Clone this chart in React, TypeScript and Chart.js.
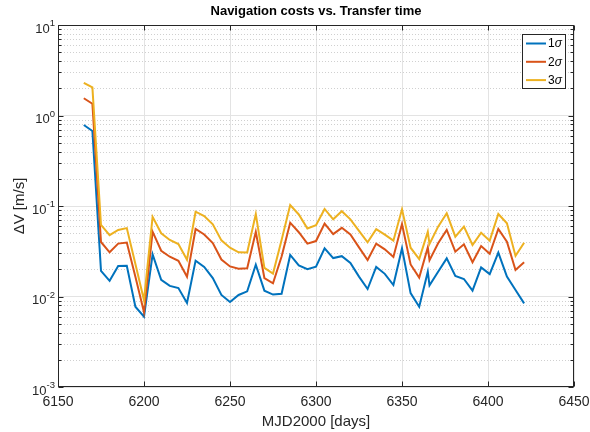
import React, { useEffect, useRef } from 'react';
import { Chart, registerables } from 'chart.js';

Chart.register(...registerables);

// ---- data ----
const days = [
  6165, 6170, 6175, 6180, 6185, 6190, 6195, 6200, 6205, 6210,
  6215, 6220, 6225, 6230, 6235, 6240, 6245, 6250, 6255, 6260,
  6265, 6270, 6275, 6280, 6285, 6290, 6295, 6300, 6305, 6310,
  6315, 6320, 6325, 6330, 6335, 6340, 6345, 6350, 6355, 6360,
  6365, 6366, 6371, 6376, 6381, 6386, 6391, 6396, 6401, 6406,
  6411, 6416, 6421,
];

const sigma1 = [
  0.785, 0.674, 0.0192, 0.0149, 0.0217, 0.0218, 0.0077, 0.006, 0.0292, 0.0153,
  0.0131, 0.0124, 0.0085, 0.0249, 0.0212, 0.016, 0.0104, 0.0087, 0.0104, 0.0114,
  0.0225, 0.0116, 0.0105, 0.0107, 0.0288, 0.0221, 0.02, 0.0214, 0.034, 0.0266,
  0.0279, 0.0235, 0.0166, 0.0121, 0.0212, 0.0178, 0.0134, 0.034, 0.0109, 0.0077,
  0.0188, 0.0133, 0.0188, 0.0264, 0.0169, 0.0156, 0.0116, 0.021, 0.0177, 0.0305,
  0.0166, 0.0118, 0.0084,
];

const sigma2 = [
  1.55, 1.35, 0.04, 0.0308, 0.0384, 0.0395, 0.0165, 0.0067, 0.052, 0.032,
  0.0275, 0.0248, 0.0165, 0.0557, 0.0484, 0.039, 0.0256, 0.0215, 0.0203, 0.0205,
  0.0518, 0.016, 0.014, 0.0276, 0.0654, 0.0513, 0.0384, 0.041, 0.0638, 0.049,
  0.0574, 0.0484, 0.0349, 0.0253, 0.0384, 0.0332, 0.0274, 0.0633, 0.0226, 0.0162,
  0.0349, 0.0252, 0.0387, 0.0543, 0.0313, 0.0377, 0.0239, 0.0361, 0.0296, 0.0557,
  0.0404, 0.0196, 0.0239,
];

const sigma3 = [
  2.3, 2.04, 0.0617, 0.0476, 0.0543, 0.057, 0.0229, 0.0091, 0.076, 0.05,
  0.0421, 0.0379, 0.0255, 0.0865, 0.0775, 0.0627, 0.0417, 0.0346, 0.0308, 0.0307,
  0.0816, 0.0207, 0.0179, 0.042, 0.1026, 0.0806, 0.0565, 0.0612, 0.0927, 0.0713,
  0.0876, 0.0713, 0.0532, 0.0397, 0.0555, 0.0483, 0.0414, 0.092, 0.0346, 0.0259,
  0.0518, 0.038, 0.0591, 0.083, 0.0458, 0.0591, 0.0371, 0.0507, 0.0414, 0.0816,
  0.0644, 0.0281, 0.0393,
];

const seriesCoefficients = ['1', '2', '3'];
const xTickValues = [6150, 6200, 6250, 6300, 6350, 6400, 6450];
const yDecades = [1e-3, 1e-2, 1e-1, 1, 10];
const yExponents = ['-3', '-2', '-1', '0', '1'];
const yMinorFactors = [2, 3, 4, 5, 6, 7, 8, 9];
const titleText = 'Navigation costs vs. Transfer time';
const xLabel = 'MJD2000 [days]';
const yLabel = 'ΔV [m/s]';

// ---- styles ----
const FONT = '"Liberation Sans", Arial, Helvetica, sans-serif';
const AXIS_COLOR = '#262626';
const seriesColors = ['#0072BD', '#D95319', '#EDB120'];

const matlabAxesPlugin = {
  id: 'matlabAxes',
  beforeDatasetsDraw(chart: any) {
    const { ctx, chartArea: a, scales } = chart;
    const y = scales.y;
    ctx.save();
    ctx.strokeStyle = '#d0d0d0';
    ctx.lineWidth = 1;
    ctx.setLineDash([1, 2]);
    for (let i = 0; i < yDecades.length - 1; i++) {
      for (const f of yMinorFactors) {
        const py = Math.round(y.getPixelForValue(yDecades[i] * f)) + 0.5;
        ctx.beginPath();
        ctx.moveTo(a.left, py);
        ctx.lineTo(a.right, py);
        ctx.stroke();
      }
    }
    ctx.restore();
  },
  afterDraw(chart: any) {
    const { ctx, chartArea: a, scales } = chart;
    const x = scales.x;
    const y = scales.y;
    const L = Math.round(a.left) + 0.5;
    const R = Math.round(a.right) - 0.5;
    const T = Math.round(a.top) + 0.5;
    const B = Math.round(a.bottom) - 0.5;
    ctx.save();
    ctx.setLineDash([]);
    ctx.strokeStyle = AXIS_COLOR;
    ctx.lineWidth = 1;
    // box
    ctx.strokeRect(L, T, R - L, B - T);
    // ticks
    ctx.beginPath();
    for (const v of xTickValues) {
      const px = Math.round(x.getPixelForValue(v)) + 0.5;
      ctx.moveTo(px, B); ctx.lineTo(px, B - 5);
      ctx.moveTo(px, T); ctx.lineTo(px, T + 5);
    }
    for (let i = 0; i < yDecades.length; i++) {
      const py = Math.round(y.getPixelForValue(yDecades[i])) + 0.5;
      ctx.moveTo(L, py); ctx.lineTo(L + 5, py);
      ctx.moveTo(R, py); ctx.lineTo(R - 5, py);
      if (i < yDecades.length - 1) {
        for (const f of yMinorFactors) {
          const pm = Math.round(y.getPixelForValue(yDecades[i] * f)) + 0.5;
          ctx.moveTo(L, pm); ctx.lineTo(L + 3, pm);
          ctx.moveTo(R, pm); ctx.lineTo(R - 3, pm);
        }
      }
    }
    ctx.stroke();

    // y tick labels 10^n
    ctx.fillStyle = AXIS_COLOR;
    ctx.textAlign = 'right';
    ctx.textBaseline = 'alphabetic';
    const rightEdge = a.left - 3;
    yDecades.forEach((v, i) => {
      const py = y.getPixelForValue(v);
      ctx.font = `9.5px ${FONT}`;
      const ew = ctx.measureText(yExponents[i]).width;
      ctx.fillText(yExponents[i], rightEdge, py + 1.2);
      ctx.font = `13px ${FONT}`;
      ctx.fillText('10', rightEdge - ew, py + 7.5);
    });

    // legend
    const lw = 43;
    const lh = 54;
    const lx = Math.round(a.right - 9 - lw) + 0.5;
    const ly = Math.round(a.top + 9) + 0.5;
    ctx.fillStyle = '#ffffff';
    ctx.fillRect(lx, ly, lw, lh);
    ctx.strokeStyle = AXIS_COLOR;
    ctx.lineWidth = 1;
    ctx.strokeRect(lx, ly, lw, lh);
    chart.data.datasets.forEach((ds: any, k: number) => {
      const ry = ly + 9 + k * 18.3;
      ctx.strokeStyle = ds.borderColor;
      ctx.lineWidth = 2;
      ctx.beginPath();
      ctx.moveTo(lx + 3.5, ry);
      ctx.lineTo(lx + 23.5, ry);
      ctx.stroke();
      ctx.fillStyle = '#000';
      ctx.textAlign = 'left';
      ctx.textBaseline = 'middle';
      ctx.font = `12px ${FONT}`;
      const tx = lx + 25.5;
      ctx.fillText(seriesCoefficients[k], tx, ry + 0.5);
      const w1 = ctx.measureText(seriesCoefficients[k]).width;
      ctx.font = `italic 12px ${FONT}`;
      ctx.fillText('σ', tx + w1, ry + 0.5);
    });
    ctx.restore();
  },
};

export default function App() {
  const ref = useRef<HTMLCanvasElement | null>(null);

  useEffect(() => {
    const canvas = ref.current;
    if (!canvas) return;
    const series = [sigma1, sigma2, sigma3];
    const chart = new Chart(canvas, {
      type: 'line',
      data: {
        datasets: series.map((s, k) => ({
          label: seriesCoefficients[k] + 'σ',
          data: s.map((v, i) => ({ x: days[i], y: v })),
          borderColor: seriesColors[k],
          backgroundColor: seriesColors[k],
          borderWidth: 2,
          pointRadius: 0,
          tension: 0,
          fill: false,
          order: 3 - k,
        })),
      },
      options: {
        responsive: false,
        animation: false,
        devicePixelRatio: 1,
        layout: { padding: { left: 0, right: 16, top: 0, bottom: 0 } },
        plugins: {
          legend: { display: false },
          tooltip: { enabled: false },
          title: {
            display: true,
            text: titleText,
            fullSize: false,
            color: '#000',
            font: { family: FONT, size: 13, weight: 'bold' },
            padding: { top: 4, bottom: 5.4 },
          },
        },
        scales: {
          x: {
            type: 'linear',
            min: 6150,
            max: 6450,
            afterBuildTicks: (s: any) => {
              s.ticks = xTickValues.map((v) => ({ value: v }));
            },
            afterFit: (s: any) => {
              s.height = 45;
              s.paddingLeft = 0;
              s.paddingRight = 0;
            },
            ticks: {
              callback: (v: any) => String(v),
              color: AXIS_COLOR,
              font: { family: FONT, size: 14 },
              padding: 7,
              maxRotation: 0,
              autoSkip: false,
            },
            grid: { color: '#e3e3e3', lineWidth: 1, drawTicks: false },
            border: { display: false },
            title: {
              display: true,
              text: xLabel,
              color: AXIS_COLOR,
              font: { family: FONT, size: 15 },
              padding: { top: 0, bottom: 1 },
            },
          },
          y: {
            type: 'logarithmic',
            min: 1e-3,
            max: 10,
            afterBuildTicks: (s: any) => {
              s.ticks = yDecades.map((v) => ({ value: v }));
            },
            afterFit: (s: any) => {
              s.width = 58;
              s.paddingTop = 0;
              s.paddingBottom = 0;
            },
            ticks: { display: false },
            grid: { color: '#e3e3e3', lineWidth: 1, drawTicks: false },
            border: { display: false },
            title: {
              display: true,
              text: yLabel,
              color: AXIS_COLOR,
              font: { family: FONT, size: 15 },
              padding: { top: 11, bottom: 0 },
            },
          },
        },
      },
      plugins: [matlabAxesPlugin],
    } as any);
    return () => chart.destroy();
  }, []);

  return (
    <div style={{ position: 'fixed', left: 0, top: 0, width: 590, height: 432, background: '#fff' }}>
      <canvas ref={ref} width={590} height={432} style={{ display: 'block', width: 590, height: 432 }} />
    </div>
  );
}
